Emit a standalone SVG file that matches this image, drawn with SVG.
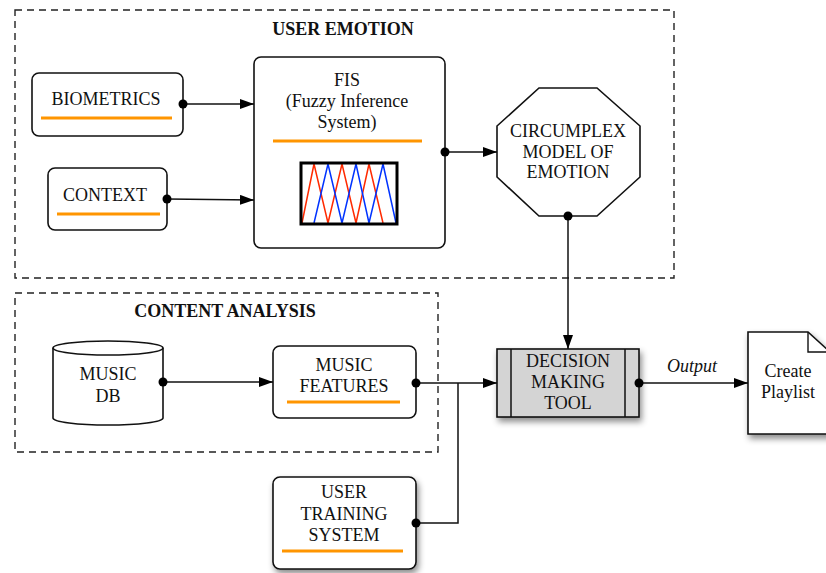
<svg xmlns="http://www.w3.org/2000/svg" width="826" height="573" viewBox="0 0 826 573">
<defs>
<marker id="arr" viewBox="0 0 14 10" refX="14" refY="5" markerWidth="14" markerHeight="10" markerUnits="userSpaceOnUse" orient="auto">
<path d="M0,0 L14,5 L0,10 Z" fill="#000"/>
</marker>
<filter id="sh" x="-20%" y="-20%" width="150%" height="150%">
<feDropShadow dx="2" dy="4" stdDeviation="3" flood-color="#000" flood-opacity="0.45"/>
</filter>
<style>
.t{font-family:"Liberation Serif","Times New Roman",serif;font-size:18px;fill:#111;text-anchor:middle}
.b{font-weight:bold;font-size:18px}
.box{fill:#fff;stroke:#111;stroke-width:1.6}
.grp{fill:none;stroke:#222;stroke-width:1.4;stroke-dasharray:7,5}
.ul{stroke:#ff9500;stroke-width:3}
.c{fill:none;stroke:#111;stroke-width:1.5}
.dot{fill:#000}
</style>
</defs>

<g id="group-user-emotion">
<rect class="grp" x="15" y="10" width="659" height="268"/>
<text class="t b" x="343" y="35">USER EMOTION</text>
</g>
<g id="group-content-analysis">
<rect class="grp" x="15" y="293" width="423" height="159"/>
<text class="t b" x="225" y="317">CONTENT ANALYSIS</text>
</g>

<g id="biometrics">
<rect class="box" x="32" y="73" width="151" height="63" rx="7"/>
<text class="t" x="106" y="105">BIOMETRICS</text>
<line class="ul" x1="41" y1="118" x2="172" y2="118"/>
</g>
<g id="context">
<rect class="box" x="48" y="168" width="119" height="62" rx="7"/>
<text class="t" x="105" y="201">CONTEXT</text>
<line class="ul" x1="57" y1="214" x2="160" y2="214"/>
</g>
<g id="fis">
<rect class="box" x="254" y="57" width="191" height="191" rx="7"/>
<text class="t" x="347" y="86">FIS</text>
<text class="t" x="347" y="107">(Fuzzy Inference</text>
<text class="t" x="347" y="128">System)</text>
<line class="ul" x1="273" y1="141" x2="422" y2="141"/>
<rect x="301" y="163" width="96" height="61" fill="#fff" stroke="none"/>
<polyline points="302,223 314,164 328,223 342,164 356,223 369,164 383,223" fill="none" stroke="#ff2a00" stroke-width="1.5"/>
<polyline points="314,223 328,164 342,223 356,164 369,223 383,164 396,223" fill="none" stroke="#0033ff" stroke-width="1.5"/>
<rect x="301" y="163" width="96" height="61" fill="none" stroke="#000" stroke-width="3"/>
</g>
<g id="circumplex">
<polygon class="box" points="539,88 597,88 640,126 640,177 597,216 539,216 497,177 497,126"/>
<text class="t" x="568" y="137">CIRCUMPLEX</text>
<text class="t" x="568" y="158">MODEL OF</text>
<text class="t" x="568" y="178">EMOTION</text>
</g>
<g id="music-db">
<path class="box" d="M53,348 A55,7 0 0 1 163,348 L163,418 A55,7 0 0 1 53,418 Z"/>
<path class="c" d="M53,348 A55,7 0 0 0 163,348" stroke-width="1.6"/>
<text class="t" x="108" y="380">MUSIC</text>
<text class="t" x="108" y="402">DB</text>
</g>
<g id="music-features">
<rect class="box" x="273" y="346" width="143" height="72" rx="7"/>
<text class="t" x="344" y="371">MUSIC</text>
<text class="t" x="344" y="392">FEATURES</text>
<line class="ul" x1="287" y1="402" x2="400" y2="402"/>
</g>
<g id="user-training">
<rect class="box" x="273" y="477" width="143" height="92" rx="7" filter="url(#sh)"/>
<text class="t" x="344" y="498">USER</text>
<text class="t" x="344" y="520">TRAINING</text>
<text class="t" x="344" y="541">SYSTEM</text>
<line class="ul" x1="282" y1="551" x2="403" y2="551"/>
</g>
<g id="decision">
<rect x="497" y="349" width="142" height="68" fill="#d4d4d4" stroke="#111" stroke-width="1.6" filter="url(#sh)"/>
<line x1="511" y1="349" x2="511" y2="417" stroke="#111" stroke-width="1.5"/>
<line x1="625" y1="349" x2="625" y2="417" stroke="#111" stroke-width="1.5"/>
<text class="t" x="568" y="367">DECISION</text>
<text class="t" x="568" y="388">MAKING</text>
<text class="t" x="568" y="409">TOOL</text>
</g>
<g id="playlist">
<path d="M748,332 L808,332 L830,352 L830,434 L748,434 Z" fill="#fff" stroke="#111" stroke-width="1.6" filter="url(#sh)"/>
<path d="M808,332 L808,352 L830,352" fill="none" stroke="#111" stroke-width="1.4"/>
<text class="t" x="788" y="377">Create</text>
<text class="t" x="788" y="398">Playlist</text>
</g>

<g id="connectors">
<line class="c" x1="183" y1="104" x2="254" y2="104" marker-end="url(#arr)"/>
<circle class="dot" cx="183" cy="104" r="4.5"/>
<line class="c" x1="167" y1="199" x2="254" y2="200" marker-end="url(#arr)"/>
<circle class="dot" cx="167" cy="199" r="4.5"/>
<line class="c" x1="445" y1="152" x2="497" y2="152" marker-end="url(#arr)"/>
<circle class="dot" cx="445" cy="152" r="4.5"/>
<line class="c" x1="568" y1="216" x2="568" y2="349" marker-end="url(#arr)"/>
<circle class="dot" cx="568" cy="216" r="4.5"/>
<line class="c" x1="163" y1="382" x2="273" y2="382" marker-end="url(#arr)"/>
<circle class="dot" cx="163" cy="382" r="4.5"/>
<line class="c" x1="416" y1="383" x2="497" y2="383" marker-end="url(#arr)"/>
<circle class="dot" cx="416" cy="383" r="4.5"/>
<polyline class="c" points="416,523 458,523 458,383"/>
<circle class="dot" cx="416" cy="523" r="4.5"/>
<line class="c" x1="639" y1="383" x2="748" y2="383" marker-end="url(#arr)"/>
<circle class="dot" cx="639" cy="383" r="4.5"/>
<text class="t" x="692" y="372" font-style="italic">Output</text>
</g>
</svg>
